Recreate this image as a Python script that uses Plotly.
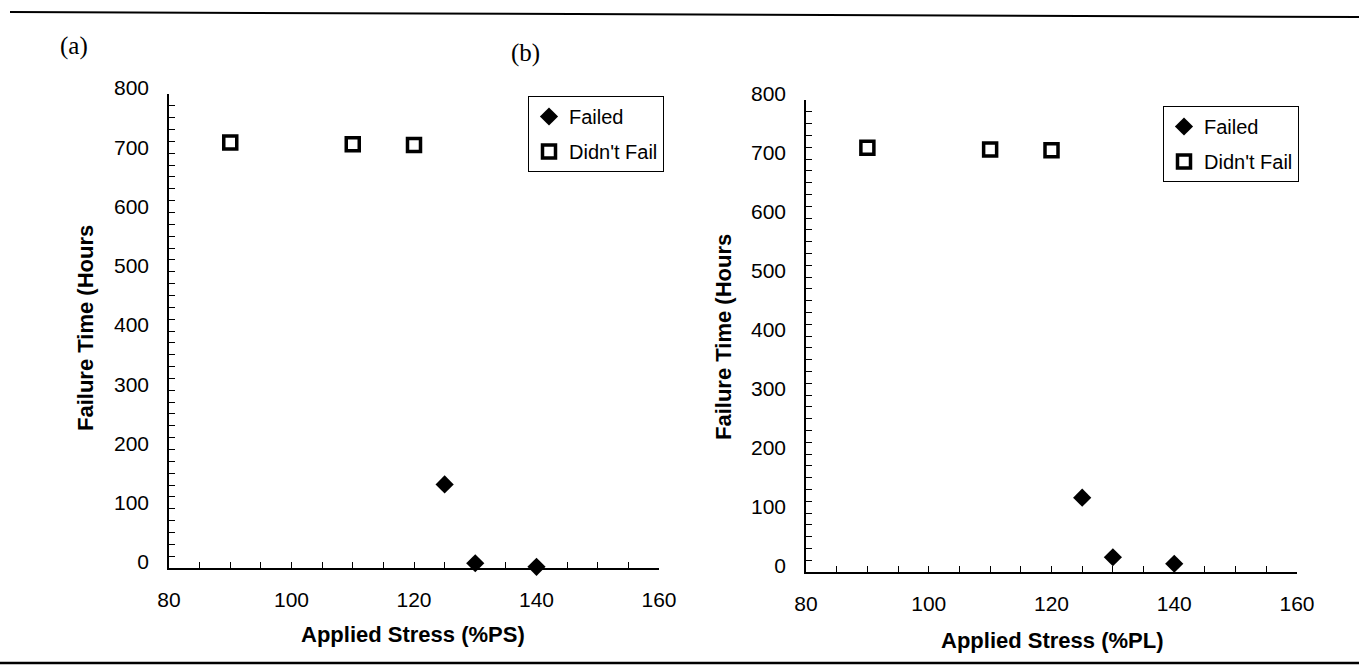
import plotly.graph_objects as go

# ---- data ----
stress_failed = [125, 130, 140]
time_failed_a = [141, 8, 2]
time_failed_b = [126, 25, 14]
stress_nofail = [90, 110, 120]
time_nofail_a = [718, 715, 714]
time_nofail_b = [719, 716, 715]
x_ticks = [80, 100, 120, 140, 160]
y_ticks = [0, 100, 200, 300, 400, 500, 600, 700, 800]

W, H = 1359, 668
def px(x): return x / W
def py(y): return 1 - y / H

FONT = "Liberation Sans, Arial, sans-serif"
diamond = dict(symbol="diamond", size=14, color="black", line=dict(width=0))
square = dict(symbol="square-open", size=13, color="black", line=dict(width=3.5, color="black"))

fig = go.Figure()
fig.add_trace(go.Scatter(x=stress_failed, y=time_failed_a, mode="markers", name="Failed",
                         marker=diamond, cliponaxis=False, xaxis="x", yaxis="y",
                         legend="legend", legendgroup="fa"))
fig.add_trace(go.Scatter(x=stress_nofail, y=time_nofail_a, mode="markers", name="Didn't Fail",
                         marker=square, cliponaxis=False, xaxis="x", yaxis="y",
                         legend="legend", legendgroup="na"))
fig.add_trace(go.Scatter(x=stress_failed, y=time_failed_b, mode="markers", name="Failed",
                         marker=diamond, cliponaxis=False, xaxis="x2", yaxis="y2",
                         legend="legend2", legendgroup="fb"))
fig.add_trace(go.Scatter(x=stress_nofail, y=time_nofail_b, mode="markers", name="Didn't Fail",
                         marker=square, cliponaxis=False, xaxis="x2", yaxis="y2",
                         legend="legend2", legendgroup="nb"))

def xax(dom, anchor):
    return dict(domain=dom, anchor=anchor, range=[80, 160], tickvals=x_ticks,
                ticks="inside", ticklen=6, tickwidth=1, tickcolor="black",
                minor=dict(dtick=5, tick0=80, ticks="inside", ticklen=6, tickwidth=1, tickcolor="black"),
                showgrid=False, zeroline=False, showline=True, linecolor="black", linewidth=1.5,
                tickfont=dict(family=FONT, size=21, color="black"), ticklabelstandoff=12,
                automargin=False)

def yax(dom, anchor):
    return dict(domain=dom, anchor=anchor, range=[0, 800], tickvals=y_ticks,
                ticks="inside", ticklen=6, tickwidth=1, tickcolor="black",
                minor=dict(dtick=20, tick0=0, ticks="inside", ticklen=6, tickwidth=1, tickcolor="black"),
                showgrid=False, zeroline=False, showline=True, linecolor="black", linewidth=1.5,
                tickfont=dict(family=FONT, size=21, color="black"), ticklabelstandoff=14,
                ticklabelshift=-6, automargin=False)

legend_common = dict(bgcolor="white", bordercolor="black", borderwidth=1,
                     font=dict(family=FONT, size=20, color="black"),
                     xanchor="left", yanchor="top", itemsizing="trace",
                     traceorder="grouped", tracegroupgap=6)

fig.update_layout(
    width=W, height=H, autosize=False,
    margin=dict(l=0, r=0, t=0, b=0, pad=0, autoexpand=False),
    paper_bgcolor="white", plot_bgcolor="white",
    xaxis=xax([px(169), px(659)], "y"),
    yaxis=yax([py(568), py(94)], "x"),
    xaxis2=xax([px(806), px(1297)], "y2"),
    yaxis2=yax([py(572), py(100)], "x2"),
    legend=dict(x=px(528), y=py(96), **legend_common),
    legend2=dict(x=px(1163), y=py(106), **legend_common),
    showlegend=True,
)

ann = [
    dict(text="Failure Time (Hours", x=px(85), y=py(328), textangle=-90),
    dict(text="Failure Time (Hours", x=px(724), y=py(337), textangle=-90),
    dict(text="Applied Stress (%PS)", x=px(413), y=py(634)),
    dict(text="Applied Stress (%PL)", x=px(1052), y=py(640)),
]
for a in ann:
    fig.add_annotation(xref="paper", yref="paper", showarrow=False, xanchor="center", yanchor="middle",
                       font=dict(family=FONT, size=22, color="black"), text="<b>%s</b>" % a["text"],
                       x=a["x"], y=a["y"], textangle=a.get("textangle", 0))

for t, x, y in [("(a)", 74, 46), ("(b)", 525, 53)]:
    fig.add_annotation(xref="paper", yref="paper", showarrow=False, xanchor="center", yanchor="middle",
                       font=dict(family="Liberation Serif, Times New Roman, serif", size=25, color="black"),
                       text=t, x=px(x), y=py(y))

# scanned page border lines
fig.add_shape(type="line", xref="paper", yref="paper", x0=px(10), y0=py(12), x1=px(1359), y1=py(17),
              line=dict(color="black", width=2))
fig.add_shape(type="line", xref="paper", yref="paper", x0=px(0), y0=py(663), x1=px(1359), y1=py(663),
              line=dict(color="black", width=2.5))

fig.write_html("out.html")
